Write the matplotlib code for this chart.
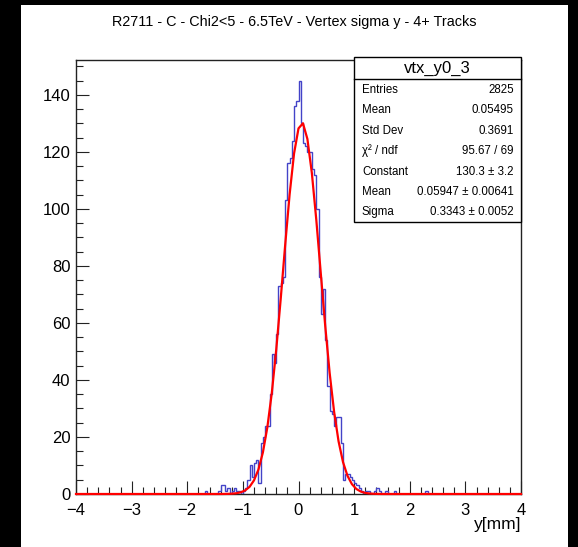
import numpy as np
import matplotlib
matplotlib.use("Agg")
import matplotlib.pyplot as plt
from matplotlib.patches import Rectangle
from matplotlib.lines import Line2D
from matplotlib.ticker import MultipleLocator

plt.rcParams['font.family'] = ['Liberation Sans', 'DejaVu Sans']

# ---------------- data ----------------
title = "R2711 - C - Chi2<5 - 6.5TeV - Vertex sigma y - 4+ Tracks"
hist_name = "vtx_y0_3"
x_label = "y[mm]"
x_min, x_max, n_bins = -4.0, 4.0, 200

# low edge of each non-empty bin (bin width 0.04) and its count
bin_low = [-1.68, -1.44, -1.40, -1.36, -1.32, -1.28, -1.20, -1.16, -1.12, -1.08,
           -1.00, -0.96, -0.92, -0.88, -0.84, -0.80, -0.76, -0.72, -0.68, -0.64,
           -0.60, -0.56, -0.52, -0.48, -0.44, -0.40, -0.36, -0.32, -0.28, -0.24,
           -0.20, -0.16, -0.12, -0.08, -0.04, 0.00, 0.04, 0.08, 0.12, 0.16,
           0.20, 0.24, 0.28, 0.32, 0.36, 0.40, 0.44, 0.48, 0.52, 0.56,
           0.60, 0.64, 0.68, 0.72, 0.76, 0.80, 0.84, 0.88, 0.92, 0.96,
           1.00, 1.04, 1.08, 1.12, 1.20, 1.24, 1.36, 1.40, 1.44, 1.56,
           1.72, 2.28]
bin_count = [1, 1, 3, 3, 1, 2, 1, 2, 1, 1,
             1, 2, 5, 10, 6, 11, 12, 4, 18, 20,
             24, 24, 35, 49, 46, 56, 73, 74, 76, 103,
             116, 118, 124, 136, 138, 145, 130, 123, 122, 120,
             120, 114, 112, 100, 76, 63, 72, 54, 38, 29,
             28, 24, 27, 27, 18, 5, 7, 7, 6, 5,
             4, 3, 2, 1, 1, 1, 1, 2, 1, 1,
             1, 1]

fit_constant, fit_mean, fit_sigma = 130.3, 0.05947, 0.3343

stats_labels = ["Entries", "Mean", "Std Dev", "\u03c7\u00b2 / ndf", "Constant", "Mean", "Sigma"]
stats_values = ["2825", "0.05495", "0.3691", "95.67 / 69",
                "130.3 \u00b1 3.2", "0.05947 \u00b1 0.00641", "0.3343 \u00b1 0.0052"]

x_ticks = [-4, -3, -2, -1, 0, 1, 2, 3, 4]
y_ticks = [0, 20, 40, 60, 80, 100, 120, 140]

# ---------------- figure ----------------
W, H = 578, 547
fig = plt.figure(figsize=(W / 100, H / 100), dpi=100, facecolor="black")

def fx(px):
    return px / W

def fy(py):
    return 1 - py / H

# white canvas
fig.patches.append(Rectangle((fx(21), 0), fx(568) - fx(21), fy(5), transform=fig.transFigure,
                             facecolor="white", edgecolor="none", zorder=-10))

L, R, T, B = 76, 521, 60, 494
ax = fig.add_axes([fx(L), fy(B), fx(R) - fx(L), fy(T) - fy(B)])
ax.set_zorder(1)
ax.set_facecolor("white")

edges = np.linspace(x_min, x_max, n_bins + 1)
counts = np.zeros(n_bins)
for lo, c in zip(bin_low, bin_count):
    counts[int(round((lo - x_min) / 0.04))] = c

ax.stairs(counts, edges, color="#4343c8", lw=1.0, zorder=3)

xs = np.linspace(x_min, x_max, 101)
ys = fit_constant * np.exp(-0.5 * ((xs - fit_mean) / fit_sigma) ** 2)
ax.plot(xs, ys, color="#ff0000", lw=1.6, zorder=4, clip_on=False)

ax.set_xlim(x_min, x_max)
ax.set_ylim(0, 1.05 * max(bin_count))

ax.set_xticks(x_ticks)
ax.set_yticks(y_ticks)
ax.set_xticklabels([("\u2212%d" % -v) if v < 0 else str(v) for v in x_ticks])
ax.xaxis.set_minor_locator(MultipleLocator(0.2))
ax.yaxis.set_minor_locator(MultipleLocator(5))
ax.tick_params(which="both", direction="in", top=False, right=False, colors="#222222",
               labelcolor="black", labelsize=12)
ax.tick_params(which="major", length=9.5, width=0.8)
ax.tick_params(which="minor", length=5, width=0.8)
ax.tick_params(axis="x", pad=6.5)
ax.tick_params(axis="y", pad=4)
for s in ax.spines.values():
    s.set_color("#222222")
    s.set_linewidth(1.0)

fig.text(fx(521), fy(524), x_label, ha="right", va="center", fontsize=12.5)
fig.text(fx(294), fy(22), title, ha="center", va="center", fontsize=10.4)

# stats box
bx0, bx1, by0, by1, bsep = 354, 521, 57, 222, 79
fig.patches.append(Rectangle((fx(bx0), fy(by1)), fx(bx1) - fx(bx0), fy(by0) - fy(by1),
                             transform=fig.transFigure, facecolor="white",
                             edgecolor="black", lw=1.0, zorder=5))
fig.lines.append(Line2D([fx(bx0), fx(bx1)], [fy(bsep), fy(bsep)], transform=fig.transFigure,
                        color="black", lw=1.0, zorder=6))
fig.text(fx((bx0 + bx1) / 2), fy(68), hist_name, ha="center", va="center", fontsize=12, zorder=7)
row_y = [90, 110, 131, 151, 172, 192, 212]
for yy, lab, val in zip(row_y, stats_labels, stats_values):
    fig.text(fx(362), fy(yy), lab, ha="left", va="center", fontsize=8.3, zorder=7)
    fig.text(fx(514), fy(yy), val, ha="right", va="center", fontsize=8.3, zorder=7)

fig.savefig("out.png", dpi=100, facecolor=fig.get_facecolor())
